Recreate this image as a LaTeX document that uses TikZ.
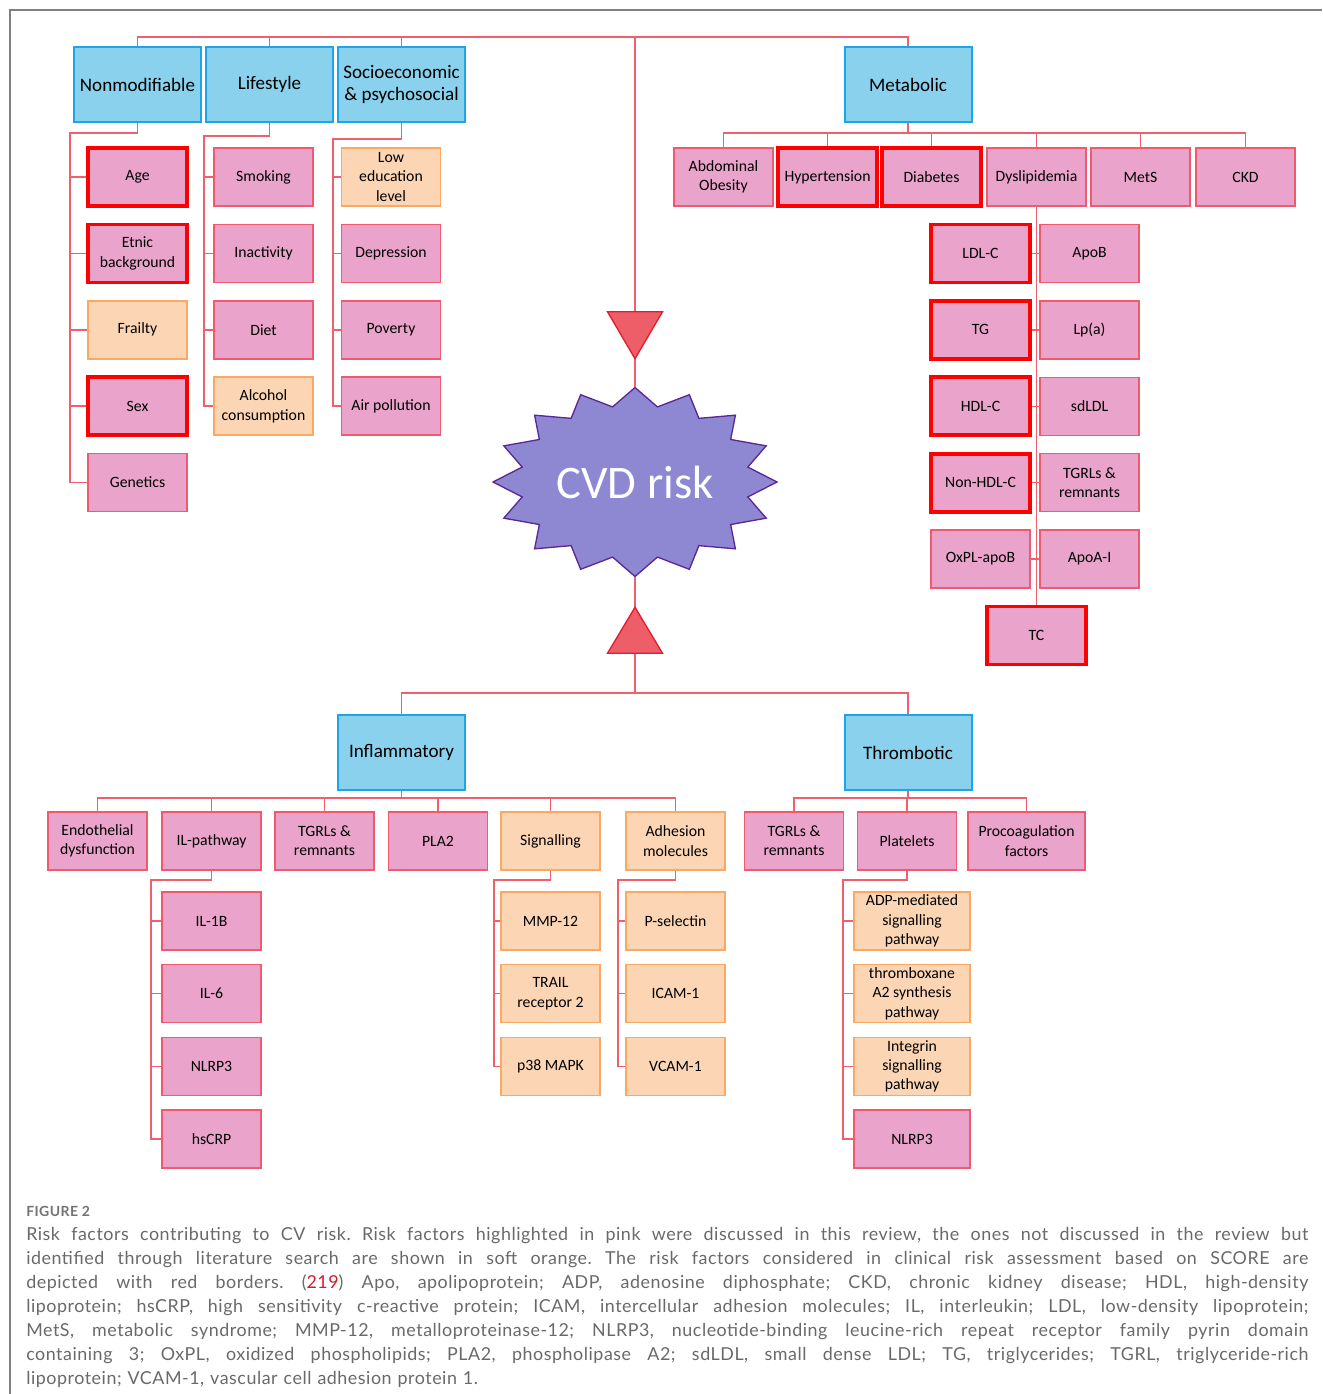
\documentclass[tikz,border=0pt]{standalone}
\usepackage{fontspec}
\setmainfont{Carlito}
\newfontfamily\capfont{Lato}[LetterSpace=3.0]
\usetikzlibrary{positioning,calc}

\definecolor{catfill}{RGB}{137,209,236}
\definecolor{catline}{RGB}{30,165,232}
\definecolor{pinkfill}{RGB}{234,164,203}
\definecolor{pinkline}{RGB}{240,90,110}
\definecolor{orfill}{RGB}{252,214,180}
\definecolor{orline}{RGB}{250,168,100}
\definecolor{linkred}{RGB}{240,96,108}
\definecolor{starfill}{RGB}{142,136,210}
\definecolor{starline}{RGB}{90,40,150}
\definecolor{trifill}{RGB}{238,94,104}
\definecolor{triline}{RGB}{225,30,45}
\definecolor{capgray}{RGB}{105,105,105}
\definecolor{refred}{RGB}{205,30,45}

\tikzset{
  cat/.style={draw=catline, fill=catfill, line width=1.5pt, minimum width=95.25pt,
    minimum height=56.25pt, align=center, inner sep=1pt, font=\fontsize{14.3}{16.5}\selectfont},
  pinkbox/.style={draw=pinkline, fill=pinkfill, line width=1.1pt, minimum width=74.25pt,
    minimum height=43.5pt, align=center, inner sep=1pt, font=\fontsize{11.8}{14.5}\selectfont},
  redbox/.style={pinkbox, draw=red, line width=2.8pt},
  orbox/.style={pinkbox, draw=orline, fill=orfill},
  widebox/.style={minimum width=87pt},
  link/.style={draw=linkred, line width=1.1pt},
}

\newcommand{\capline}[1]{\makebox[961.5pt][s]{\spaceskip=0pt\xspaceskip=0pt#1}\\}

\begin{document}
\begin{tikzpicture}[x=0.75pt, y=-0.75pt, on grid, node distance=57.3pt and 81.75pt]
  \useasboundingbox (0,0) rectangle (1322,1394);
  \draw[black!50, line width=0.9pt] (10,1394) -- (10,10) -- (1322,10);

  % main groups
  \node[cat] (nonmod) at (137.5,84.5) {Nonmodifiable};
  \node[cat] (life) at (269.5,84.5) {Lifestyle};
  \node[cat] (socio) at (401.5,84.5) {Socioeconomic\\\& psychosocial};
  \node[cat] (metab) at (908,84.5) {Metabolic};
  \node[cat] (infl) at (401.5,752.5) {Inflammatory};
  \node[cat] (thromb) at (908,752.5) {Thrombotic};

  % nonmodifiable
  \node[redbox] (age) at (137.5,177) {Age};
  \node[redbox, below=of age] (etnic) {Etnic\\background};
  \node[orbox, below=of etnic] (frailty) {Frailty};
  \node[redbox, below=of frailty] (sex) {Sex};
  \node[pinkbox, below=of sex] (genet) {Genetics};

  % lifestyle
  \node[pinkbox] (smoke) at (263.5,177) {Smoking};
  \node[pinkbox, below=of smoke] (inact) {Inactivity};
  \node[pinkbox, below=of inact] (diet) {Diet};
  \node[orbox, below=of diet] (alcohol) {Alcohol\\consumption};

  % socioeconomic
  \node[orbox] (loweduc) at (391,177) {Low\\education\\level};
  \node[pinkbox, below=of loweduc] (depress) {Depression};
  \node[pinkbox, below=of depress] (poverty) {Poverty};
  \node[pinkbox, below=of poverty] (airpol) {Air pollution};

  % metabolic
  \node[pinkbox] (abdob) at (723.5,177) {Abdominal\\Obesity};
  \node[redbox] (hypert) at (827.5,177) {Hypertension};
  \node[redbox] (diab) at (931.5,177) {Diabetes};
  \node[pinkbox] (dyslip) at (1036.5,177) {Dyslipidemia};
  \node[pinkbox] (mets) at (1140.5,177) {MetS};
  \node[pinkbox] (ckd) at (1245.5,177) {CKD};

  \node[redbox] (ldl) at (980.5,253.5) {LDL-C};
  \node[redbox, below=of ldl] (tg) {TG};
  \node[redbox, below=of tg] (hdl) {HDL-C};
  \node[redbox, below=of hdl] (nonhdl) {Non-HDL-C};
  \node[pinkbox, below=of nonhdl] (oxpl) {OxPL-apoB};
  \node[pinkbox, right=of ldl] (apob) {ApoB};
  \node[pinkbox, right=of tg] (lpa) {Lp(a)};
  \node[pinkbox, right=of hdl] (sdldl) {sdLDL};
  \node[pinkbox, right=of nonhdl] (tgrlA) {TGRLs \&\\remnants};
  \node[pinkbox, right=of oxpl] (apoai) {ApoA-I};
  \node[redbox] (tc) at (1036.5,635.5) {TC};

  % inflammatory
  \node[pinkbox] (endo) at (97.5,841) {Endothelial\\dysfunction};
  \node[pinkbox] (ilpath) at (211.5,841) {IL-pathway};
  \node[pinkbox] (tgrlB) at (324.5,841) {TGRLs \&\\remnants};
  \node[pinkbox] (pla) at (438,841) {PLA2};
  \node[orbox] (signal) at (550.5,841) {Signalling};
  \node[orbox] (adhes) at (675.5,841) {Adhesion\\molecules};

  \begin{scope}[node distance=54.5pt]
    \node[pinkbox] (ilib) at (211.5,921) {IL-1B};
    \node[pinkbox, below=of ilib] (ilsix) {IL-6};
    \node[pinkbox, below=of ilsix] (nlrpA) {NLRP3};
    \node[pinkbox, below=of nlrpA] (hscrp) {hsCRP};

    \node[orbox] (mmp) at (550.5,921) {MMP-12};
    \node[orbox, below=of mmp] (trail) {TRAIL\\receptor 2};
    \node[orbox, below=of trail] (ppmapk) {p38 MAPK};

    \node[orbox] (psel) at (675.5,921) {P-selectin};
    \node[orbox, below=of psel] (icam) {ICAM-1};
    \node[orbox, below=of icam] (vcam) {VCAM-1};
  \end{scope}

  % thrombotic
  \node[pinkbox] (tgrlC) at (794,841) {TGRLs \&\\remnants};
  \node[pinkbox] (platel) at (907,841) {Platelets};
  \node[pinkbox, minimum width=87.75pt] (procoag) at (1026.5,841) {Procoagulation\\factors};

  \begin{scope}[node distance=54.5pt]
    \node[orbox, widebox] (adp) at (912,921) {ADP-mediated\\signalling\\pathway};
    \node[orbox, widebox, below=of adp] (thromboxane) {thromboxane\\A2 synthesis\\pathway};
    \node[orbox, widebox, below=of thromboxane] (integrin) {Integrin\\signalling\\pathway};
    \node[pinkbox, widebox, below=of integrin] (nlrpB) {NLRP3};
  \end{scope}

  % CVD risk burst
  \begin{scope}[shift={(635,482)}]
    \draw[draw=starline, fill=starfill, line width=1pt] (90:142 and 94.5)
      \foreach \i [evaluate=\i as \r using {mod(\i,2)==0 ? 1 : 0.81}] in {1,...,31} {
        -- ({90+\i*11.25}:{142*\r} and {94.5*\r}) } -- cycle;
  \end{scope}
  \node[minimum width=213pt, minimum height=141.75pt, text=white,
    font=\fontsize{35}{40}\selectfont] (cvd) at (635,482) {CVD risk};

  % trunk lines
  \coordinate (topbus) at (635,37);
  \coordinate (botbus) at (635,693);
  \draw[link] (nonmod.north) |- (topbus) -| (metab.north);
  \draw[link] (life.north) -- (life.north |- topbus);
  \draw[link] (socio.north) -- (socio.north |- topbus);
  \draw[link] (topbus) -- (cvd.north);
  \draw[link] (cvd.south) -- (botbus);
  \draw[link] (infl.north) |- (botbus) -| (thromb.north);

  \filldraw[draw=triline, fill=trifill, line width=1pt]
    ($(cvd.north)+(-27.5,-75.5)$) -- ++(55,0) -- ($(cvd.north)+(0,-28.5)$) -- cycle;
  \filldraw[draw=triline, fill=trifill, line width=1pt]
    ($(cvd.south)+(-27.5,76.5)$) -- ++(55,0) -- ($(cvd.south)+(0,30.5)$) -- cycle;

  % left side branches
  \coordinate (nmtrunk) at (70,133);
  \draw[link] (nonmod.south) |- (nmtrunk) |- (genet.west);
  \foreach \n in {age,etnic,frailty,sex}
    \draw[link] (nmtrunk |- \n.west) -- (\n.west);

  \coordinate (lftrunk) at (204,136);
  \draw[link] (life.south) |- (lftrunk) |- (alcohol.west);
  \foreach \n in {smoke,inact,diet}
    \draw[link] (lftrunk |- \n.west) -- (\n.west);

  \coordinate (sctrunk) at (333,139);
  \draw[link] (socio.south) |- (sctrunk) |- (airpol.west);
  \foreach \n in {loweduc,depress,poverty}
    \draw[link] (sctrunk |- \n.west) -- (\n.west);

  % metabolic branches
  \coordinate (metbus) at (908,133);
  \draw[link] (metab.south) -- (metbus);
  \draw[link] (abdob.north) |- (metbus) -| (ckd.north);
  \foreach \n in {hypert,diab,dyslip,mets}
    \draw[link] (\n.north) -- (\n.north |- metbus);
  \draw[link] (dyslip.south) -- (tc.north);
  \foreach \l/\r in {ldl/apob,tg/lpa,hdl/sdldl,nonhdl/tgrlA,oxpl/apoai}
    \draw[link] (\l.east) -- (\r.west);

  % inflammatory branches
  \coordinate (inbus) at (401.5,798);
  \draw[link] (infl.south) -- (inbus);
  \draw[link] (endo.north) |- (inbus) -| (adhes.north);
  \foreach \n in {ilpath,tgrlB,pla,signal}
    \draw[link] (\n.north) -- (\n.north |- inbus);

  \coordinate (iltrunk) at (151,880);
  \draw[link] (ilpath.south) |- (iltrunk) |- (hscrp.west);
  \foreach \n in {ilib,ilsix,nlrpA}
    \draw[link] (iltrunk |- \n.west) -- (\n.west);

  \coordinate (sgtrunk) at (494,880);
  \draw[link] (signal.south) |- (sgtrunk) |- (ppmapk.west);
  \foreach \n in {mmp,trail}
    \draw[link] (sgtrunk |- \n.west) -- (\n.west);

  \coordinate (adtrunk) at (618,880);
  \draw[link] (adhes.south) |- (adtrunk) |- (vcam.west);
  \foreach \n in {psel,icam}
    \draw[link] (adtrunk |- \n.west) -- (\n.west);

  % thrombotic branches
  \coordinate (thbus) at (908,798);
  \draw[link] (thromb.south) -- (thbus);
  \draw[link] (tgrlC.north) |- (thbus) -| (procoag.north);
  \draw[link] (platel.north) -- (platel.north |- thbus);

  \coordinate (pltrunk) at (843,880);
  \draw[link] (platel.south) |- (pltrunk) |- (nlrpB.west);
  \foreach \n in {adp,thromboxane,integrin}
    \draw[link] (pltrunk |- \n.west) -- (\n.west);

  % caption
  \node[anchor=base west, inner sep=0pt, text=black!55,
    font=\capfont\bfseries\fontsize{10.5}{12}\selectfont] (fig) at (26,1216) {FIGURE 2};
  \node[anchor=north west, inner sep=0pt, text width=961.5pt, align=left, text=capgray,
    font=\capfont\frenchspacing\fontsize{13.4}{18}\selectfont] (caption) at (26,1227) {%
    \capline{Risk factors contributing to CV risk. Risk factors highlighted in pink were discussed in this review, the ones not discussed in the review but}
    \capline{identified through literature search are shown in soft orange. The risk factors considered in clinical risk assessment based on SCORE are}
    \capline{depicted with red borders. ({\color{refred}219}) Apo, apolipoprotein; ADP, adenosine diphosphate; CKD, chronic kidney disease; HDL, high-density}
    \capline{lipoprotein; hsCRP, high sensitivity c-reactive protein; ICAM, intercellular adhesion molecules; IL, interleukin; LDL, low-density lipoprotein;}
    \capline{MetS, metabolic syndrome; MMP-12, metalloproteinase-12; NLRP3, nucleotide-binding leucine-rich repeat receptor family pyrin domain}
    \capline{containing 3; OxPL, oxidized phospholipids; PLA2, phospholipase A2; sdLDL, small dense LDL; TG, triglycerides; TGRL, triglyceride-rich}
    lipoprotein; VCAM-1, vascular cell adhesion protein 1.};
\end{tikzpicture}
\end{document}
